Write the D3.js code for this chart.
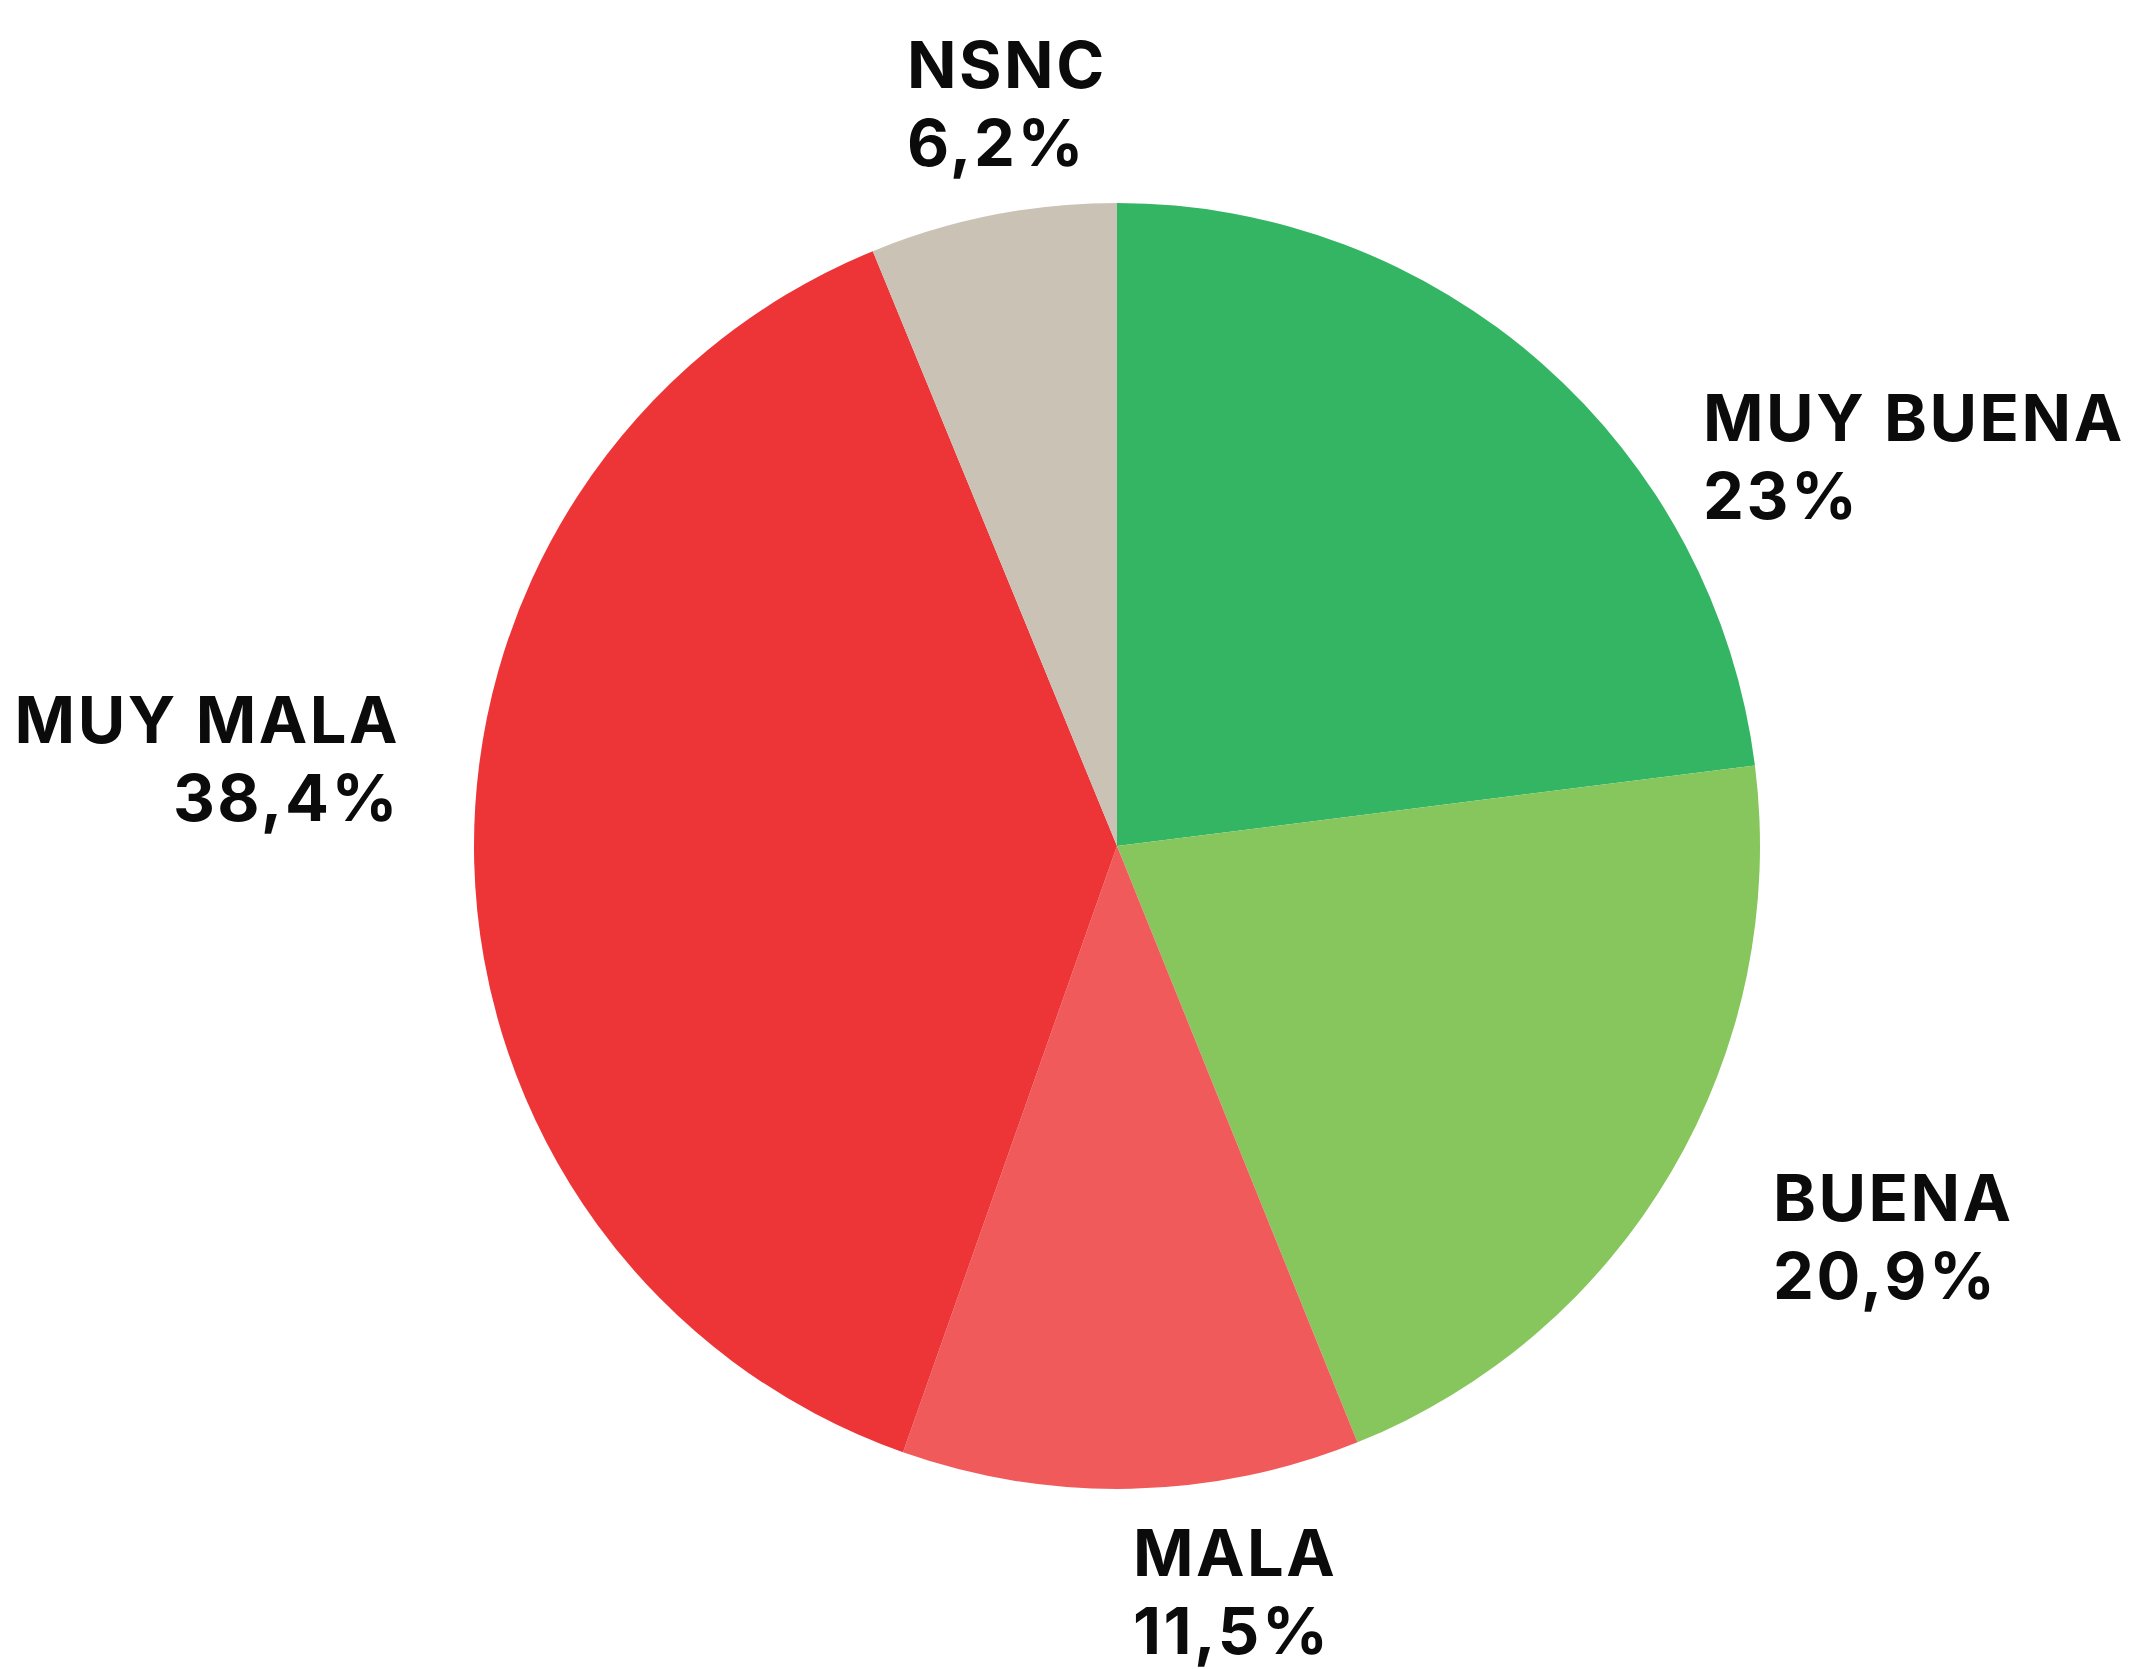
<!DOCTYPE html>
<html>
<head>
<meta charset="utf-8">
<script src="https://cdn.jsdelivr.net/npm/d3@7"></script>
<style>
	html, body { margin: 0; padding: 0; background: #fff; }
	svg { display: block; }
	text { font-family: Inter, "Liberation Sans", sans-serif; font-weight: 700; }
</style>
</head>
<body>
<script>
// datos
var categories = ["MUY BUENA", "BUENA", "MALA", "MUY MALA", "NSNC"];
var values = [23, 20.9, 11.5, 38.4, 6.2];
var valueLabels = ["23%", "20,9%", "11,5%", "38,4%", "6,2%"];
var colors = ["#33b563", "#86c65c", "#f05a5b", "#ed3537", "#c9c2b5"];

// posicion de las etiquetas, relativa al centro del pie
var labelOffsets = [[586, -405, "start"], [656, 375, "start"], [16, 730, "start"], [-717, -103, "end"], [-210, -758, "start"]];

var width = 2130, height = 1669;
var cx = 1117, cy = 846, radius = 643;
var lineGap = 78;

var svg = d3.select("body").append("svg")
	.attr("width", width)
	.attr("height", height);

var items = categories.map(function (c, i) {
	return {name: c, value: values[i], label: valueLabels[i], color: colors[i], off: labelOffsets[i]};
});

var pie = d3.pie()
	.sort(null)
	.value(function (d) { return d.value; });

var arc = d3.arc()
	.innerRadius(0)
	.outerRadius(radius);

var g = svg.append("g")
	.attr("transform", "translate(" + cx + "," + cy + ")");

g.selectAll("path")
	.data(pie(items))
	.enter()
	.append("path")
	.attr("d", arc)
	.attr("fill", function (d) { return d.data.color; });

var labels = g.selectAll("text.lbl")
	.data(items)
	.enter()
	.append("text")
	.attr("class", "lbl")
	.attr("text-anchor", function (d) { return d.off[2]; })
	.attr("fill", "#0b0b0b")
	.style("font-size", "65px")
	.style("letter-spacing", "2.5px");

labels.append("tspan")
	.attr("x", function (d) { return d.off[0]; })
	.attr("y", function (d) { return d.off[1]; })
	.text(function (d) { return d.name; });

labels.append("tspan")
	.attr("x", function (d) { return d.off[0]; })
	.attr("y", function (d) { return d.off[1] + lineGap; })
	.text(function (d) { return d.label; });
</script>
</body>
</html>
